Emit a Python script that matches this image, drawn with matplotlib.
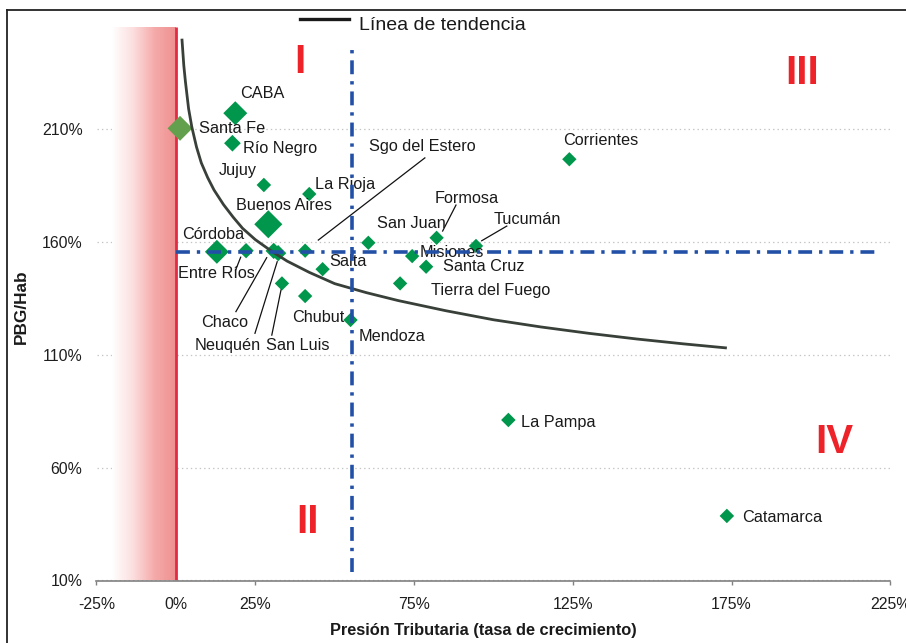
import numpy as np
import matplotlib
matplotlib.use("Agg")
import matplotlib.pyplot as plt
from matplotlib.colors import LinearSegmentedColormap
from matplotlib.lines import Line2D

plt.rcParams['font.family'] = ['Liberation Sans', 'DejaVu Sans']
plt.rcParams['lines.scale_dashes'] = False

# ---------------- data ----------------
provinces = ["CABA", "Santa Fe", "Río Negro", "Jujuy", "La Rioja", "Buenos Aires",
             "Córdoba", "Entre Ríos", "Chaco", "Neuquén", "Sgo del Estero", "Salta",
             "San Luis", "Chubut", "Mendoza", "San Juan", "Formosa", "Tucumán",
             "Misiones", "Santa Cruz", "Tierra del Fuego", "Corrientes", "La Pampa",
             "Catamarca"]
presion = [18.7, 1.3, 17.8, 27.7, 42.0, 29.1, 12.9, 22.1, 30.8, 32.2, 40.7, 46.2,
           33.4, 40.7, 55.0, 60.6, 82.1, 94.5, 74.4, 78.8, 70.6, 123.9, 104.7, 173.5]
pbg_hab = [217.0, 210.3, 203.7, 185.2, 181.2, 167.8, 155.6, 156.1, 156.0, 155.0,
           156.1, 147.9, 141.6, 136.0, 125.4, 159.6, 161.8, 158.2, 153.7, 149.0,
           141.6, 196.6, 81.1, 38.6]

# trend line
trend_x = [1.9, 2.5, 3, 4, 5, 6.5, 8, 10, 12, 15, 18, 21, 25, 30, 35, 42, 50, 60,
           70, 85, 100, 115, 130, 145, 160, 173.5]
trend_y = [250, 238, 231, 219, 211, 202, 195, 188.5, 183, 176.5, 171, 166, 161, 156,
           151.5, 146.5, 141.5, 137.5, 134, 129.5, 125.5, 122.3, 119.5, 117, 114.8, 113]

mean_x = 55.3
mean_y = 155.5

x_ticks = [-25, 0, 25, 75, 125, 175, 225]
x_ticklabels = ["-25%", "0%", "25%", "75%", "125%", "175%", "225%"]
y_ticks = [10, 60, 110, 160, 210]
y_ticklabels = ["10%", "60%", "110%", "160%", "210%"]

quadrants = ["I", "II", "III", "IV"]

# ---------------- style / layout ----------------
marker_ms = [12.2, 12.7, 8.5, 7.4, 7.3, 14.3, 12.2, 7.8, 8.3, 8.3, 7.3, 7.3,
             7.3, 7.3, 7.3, 7.3, 7.3, 7.3, 7.3, 7.3, 7.3, 7.3, 7.4, 7.4]
green = "#00964b"
light_green = "#62a04e"
colors = [light_green if p == "Santa Fe" else green for p in provinces]

label_pos = [(20.2, 225.8), (7.4, 210.3), (21.2, 201.4), (13.6, 191.5), (43.8, 185.6),
             (18.8, 176.3), (2.1, 163.4), (0.6, 146.1), (7.8, 124.2), (6.0, 113.9),
             (60.7, 202.2), (48.3, 151.5), (28.4, 113.9), (36.5, 126.6), (57.4, 118.0),
             (63.2, 168.2), (81.4, 179.0), (100.0, 170.0), (76.6, 155.2), (84.2, 149.0),
             (80.3, 138.4), (121.8, 204.8), (108.7, 79.9), (178.4, 38.0)]

leaders = [((78.4, 197.2), (44.85, 160.8)),
           ((88.2, 176.3), (84.0, 164.8)),
           ((104.2, 167.0), (96.3, 160.5)),
           ((20.4, 153.2), (18.8, 147.5)),
           ((28.6, 153.0), (18.9, 129.1)),
           ((31.9, 151.2), (24.9, 119.5)),
           ((33.1, 138.7), (30.2, 118.7))]

quad_pos = [(39.2, 234.7), (41.3, 30.9), (197.1, 229.9), (207.2, 66.3)]

W, H = 906, 643
fig = plt.figure(figsize=(W / 100, H / 100), dpi=100)
ax_left, ax_right, ax_bottom, ax_top = 96.5, 890.4, 580.5, 27.0
ax = fig.add_axes([ax_left / W, 1 - ax_bottom / H, (ax_right - ax_left) / W,
                   (ax_bottom - ax_top) / H])
ymax = 10 + (ax_bottom - ax_top) / 2.2575
ax.set_xlim(-25, 225)
ax.set_ylim(10, ymax)

# red gradient band
cmap = LinearSegmentedColormap.from_list("band", ["#ffffff", "#fcdede", "#f5aaaa", "#ef9090"])
grad = np.linspace(0, 1, 256).reshape(1, -1)
ax.imshow(grad, extent=[-20, 0, 10, ymax], aspect='auto', cmap=cmap, zorder=1,
          interpolation='bicubic')
ax.plot([0, 0], [10, ymax], color="#e42a42", lw=2.0, zorder=1.5, solid_capstyle='butt')

# grid
ax.set_yticks(y_ticks)
ax.set_yticklabels(y_ticklabels)
ax.yaxis.grid(True, linestyle=(0, (1, 2.2)), color="#c4c4c4", lw=0.9)
ax.set_axisbelow(True)

for s in ["left", "top", "right"]:
    ax.spines[s].set_visible(False)
ax.spines["bottom"].set_color("#808080")
ax.spines["bottom"].set_linewidth(1.2)

ax.set_xticks(x_ticks)
ax.set_xticklabels(x_ticklabels)
ax.tick_params(axis='x', direction='out', length=3.2, width=1.0, color="#808080",
               pad=8.5, labelsize=11.4, labelcolor="#1e1e1e")
ax.tick_params(axis='y', length=0, pad=10, labelsize=11.4, labelcolor="#1e1e1e")
ax.xaxis.get_major_ticks()[1].tick1line.set_visible(False)

# points
ax.scatter(presion, pbg_hab, s=np.array(marker_ms) ** 2, marker='D', c=colors,
           linewidths=0, zorder=3)

# labels
for name, (lx, ly) in zip(provinces, label_pos):
    ax.text(lx, ly, name, fontsize=11.7, color="#1a1a1a", ha='left', va='center',
            zorder=3.5)

for (a, b) in leaders:
    ax.plot([a[0], b[0]], [a[1], b[1]], color="#111111", lw=0.9, zorder=3.4)

# trend line
ax.plot(trend_x, trend_y, color="#384039", lw=2.0, zorder=4, solid_capstyle='butt',
        solid_joinstyle='round')

# mean lines
blue = "#2250a6"
ax.plot([0, 221.7], [mean_y, mean_y], color=blue, lw=2.6, dashes=(10, 5, 2.4, 5), zorder=5)
ax.plot([mean_x, mean_x], [13.8, 246.3], color=blue, lw=2.6, dashes=(10, 5, 2.4, 5), zorder=5)

# quadrant numerals
for q, (qx, qy) in zip(quadrants, quad_pos):
    ax.text(qx, qy, q, fontsize=29, fontweight='bold', color="#ee2229",
            ha='center', va='baseline', zorder=3)

# axis titles
fig.text(483 / W, 1 - 630 / H, "Presión Tributaria (tasa de crecimiento)",
         fontsize=11.8, fontweight='bold', color="#1a1a1a", ha='center', va='center')
fig.text(21 / W, 1 - 307 / H, "PBG/Hab", fontsize=12.4, fontweight='bold',
         color="#1a1a1a", ha='center', va='center', rotation=90)

# legend
fig.add_artist(Line2D([300 / W, 349 / W], [1 - 19 / H, 1 - 19 / H], color="#1a1a1a", lw=2.4))
fig.text(359 / W, 1 - 25 / H, "Línea de tendencia", fontsize=14, color="#1a1a1a",
         ha='left', va='center')

# outer border (left & top)
fig.add_artist(Line2D([7 / W, 7 / W], [0, 1 - 9.5 / H], color="#222222", lw=1.3))
fig.add_artist(Line2D([7 / W, 1], [1 - 9.5 / H, 1 - 9.5 / H], color="#222222", lw=1.3))

fig.savefig("out.png", dpi=100)
